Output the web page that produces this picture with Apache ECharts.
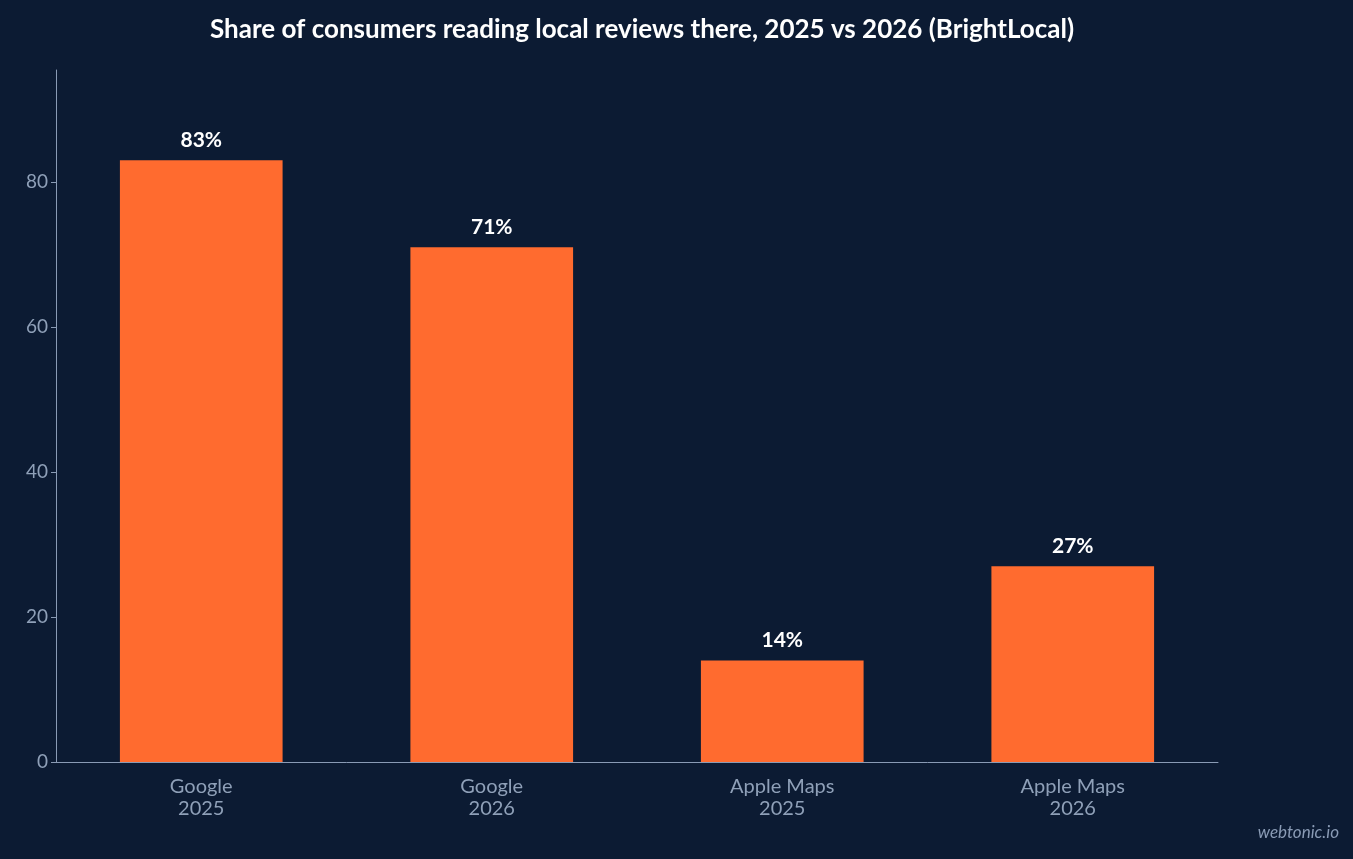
<!DOCTYPE html>
<html>
<head>
<meta charset="UTF-8">
<title>Local reviews</title>
<script src="https://cdn.jsdelivr.net/npm/echarts@6/dist/echarts.min.js"></script>
<style>
html, body { margin: 0; padding: 0; background: #0c1b33; }
#main { width: 1353px; height: 859px; }
</style>
</head>
<body>
<div id="main"></div>
<script>
// data
var categories = ['Google\n2025', 'Google\n2026', 'Apple Maps\n2025', 'Apple Maps\n2026'];
var shares = [83, 71, 14, 27];

var chart = echarts.init(document.getElementById('main'));
var option = {
	backgroundColor: '#0c1b33',
	textStyle: { fontFamily: 'Lato' },
	title: {
		text: 'Share of consumers reading local reviews there, 2025 vs 2026 (BrightLocal)',
		left: 637, top: 12, textAlign: 'center',
		textStyle: { color: '#ffffff', fontSize: 26, fontWeight: 'bold', fontFamily: 'Lato' }
	},
	graphic: [{
		type: 'text', right: 14, top: 824,
		style: { text: 'webtonic.io', fill: '#8a9bb5', font: 'italic 17px Lato' }
	}],
	grid: { left: 56, right: 135, top: 70, bottom: 97 },
	xAxis: {
		type: 'category',
		data: categories,
		axisLine: { lineStyle: { color: '#8a9bb5' } },
		axisTick: { show: false },
		axisLabel: { color: '#8fa0b8', fontSize: 20, lineHeight: 22, margin: 14 }
	},
	yAxis: {
		type: 'value', min: 0, max: 95.45, interval: 20,
		splitLine: { show: false },
		axisLine: { show: true, lineStyle: { color: '#8a9bb5' } },
		axisTick: { show: true, lineStyle: { color: '#8a9bb5' } },
		axisLabel: {
			color: '#8fa0b8', fontSize: 19, showMaxLabel: false,
			formatter: function (v) { return v % 20 === 0 ? v : ''; }
		}
	},
	series: [{
		type: 'bar',
		data: shares,
		barWidth: '56%',
		itemStyle: { color: '#ff6b2f' },
		label: {
			show: true, position: 'top', distance: 10,
			formatter: '{c}%', color: '#ffffff', fontSize: 21, fontWeight: 'bold'
		}
	}]
};
chart.setOption(option);
</script>
</body>
</html>
